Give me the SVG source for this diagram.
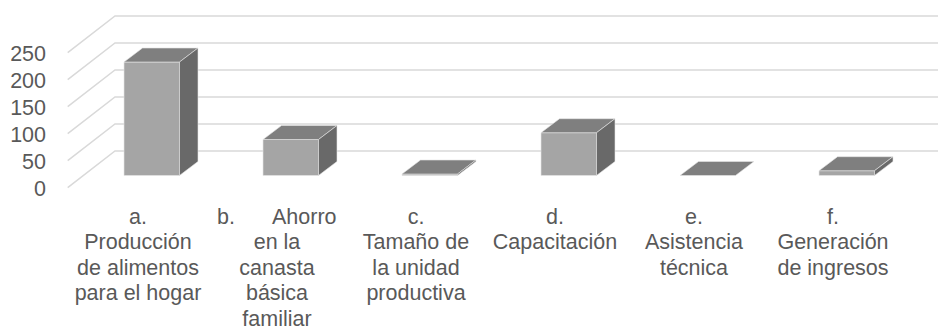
<svg xmlns="http://www.w3.org/2000/svg" width="938" height="333" viewBox="0 0 938 333">
<style>
.grid{fill:none;stroke:#d9d9d9;stroke-width:1.5}
.front{fill:#a5a5a5;stroke:#e6e6e6;stroke-width:0.6}
.top{fill:#7f7f7f;stroke:#e6e6e6;stroke-width:0.6}
.side{fill:#696969;stroke:#e6e6e6;stroke-width:0.6}
text{font-family:"Liberation Sans",Arial,sans-serif;font-size:21.5px;fill:#595959}
.ax{text-anchor:end}
.cat{text-anchor:middle}
</style>
<rect width="938" height="333" fill="#ffffff"/>
<g id="gridlines">
<path class="grid" d="M67.7,187.7 L115,151 L938,151"/>
<path class="grid" d="M67.7,160.7 L115,124 L938,124"/>
<path class="grid" d="M67.7,133.7 L115,97 L938,97"/>
<path class="grid" d="M67.7,106.7 L115,70 L938,70"/>
<path class="grid" d="M67.7,79.7 L115,43 L938,43"/>
<path class="grid" d="M67.7,52.7 L115,16 L938,16"/>
</g>
<g id="axis">
<text class="ax" x="46" y="61">250</text>
<text class="ax" x="46" y="88">200</text>
<text class="ax" x="46" y="115">150</text>
<text class="ax" x="46" y="142">100</text>
<text class="ax" x="46" y="169">50</text>
<text class="ax" x="46" y="196">0</text>
</g>
<g id="bar-a">
<polygon class="front" points="124,62 179.5,62 179.5,175.5 124,175.5"/>
<polygon class="top" points="124,62 142.5,48 198,48 179.5,62"/>
<polygon class="side" points="179.5,62 198,48 198,161.5 179.5,175.5"/>
</g>
<g id="bar-b">
<polygon class="front" points="263,139.5 318.5,139.5 318.5,175.5 263,175.5"/>
<polygon class="top" points="263,139.5 281.5,125.5 337,125.5 318.5,139.5"/>
<polygon class="side" points="318.5,139.5 337,125.5 337,161.5 318.5,175.5"/>
</g>
<g id="bar-c">
<polygon class="front" points="402,174 457.5,174 457.5,175.5 402,175.5"/>
<polygon class="top" points="402,174 420.5,160 476,160 457.5,174"/>
<polygon class="side" points="457.5,174 476,160 476,161.5 457.5,175.5"/>
</g>
<g id="bar-d">
<polygon class="front" points="541,132.7 596.5,132.7 596.5,175.5 541,175.5"/>
<polygon class="top" points="541,132.7 559.5,118.7 615,118.7 596.5,132.7"/>
<polygon class="side" points="596.5,132.7 615,118.7 615,161.5 596.5,175.5"/>
</g>
<g id="bar-e">
<polygon class="top" points="680,175.5 698.5,161.5 754,161.5 735.5,175.5"/>
</g>
<g id="bar-f">
<polygon class="front" points="819,170.7 874.5,170.7 874.5,175.5 819,175.5"/>
<polygon class="top" points="819,170.7 837.5,156.7 893,156.7 874.5,170.7"/>
<polygon class="side" points="874.5,170.7 893,156.7 893,161.5 874.5,175.5"/>
</g>
<g id="label-a">
<text class="cat" x="138" y="223.5">a.</text>
<text class="cat" x="138" y="249">Producción</text>
<text class="cat" x="138" y="274.5">de alimentos</text>
<text class="cat" x="138" y="300">para el hogar</text>
</g>
<g id="label-b">
<text x="217" y="223.5">b.<tspan x="272">Ahorro</tspan></text>
<text class="cat" x="277" y="249">en la</text>
<text class="cat" x="277" y="274.5">canasta</text>
<text class="cat" x="277" y="300">básica</text>
<text class="cat" x="277" y="325.5">familiar</text>
</g>
<g id="label-c">
<text class="cat" x="416" y="223.5">c.</text>
<text class="cat" x="416" y="249">Tamaño de</text>
<text class="cat" x="416" y="274.5">la unidad</text>
<text class="cat" x="416" y="300">productiva</text>
</g>
<g id="label-d">
<text class="cat" x="555" y="223.5">d.</text>
<text class="cat" x="555" y="249">Capacitación</text>
</g>
<g id="label-e">
<text class="cat" x="694" y="223.5">e.</text>
<text class="cat" x="694" y="249">Asistencia</text>
<text class="cat" x="694" y="274.5">técnica</text>
</g>
<g id="label-f">
<text class="cat" x="833" y="223.5">f.</text>
<text class="cat" x="833" y="249">Generación</text>
<text class="cat" x="833" y="274.5">de ingresos</text>
</g>
</svg>
